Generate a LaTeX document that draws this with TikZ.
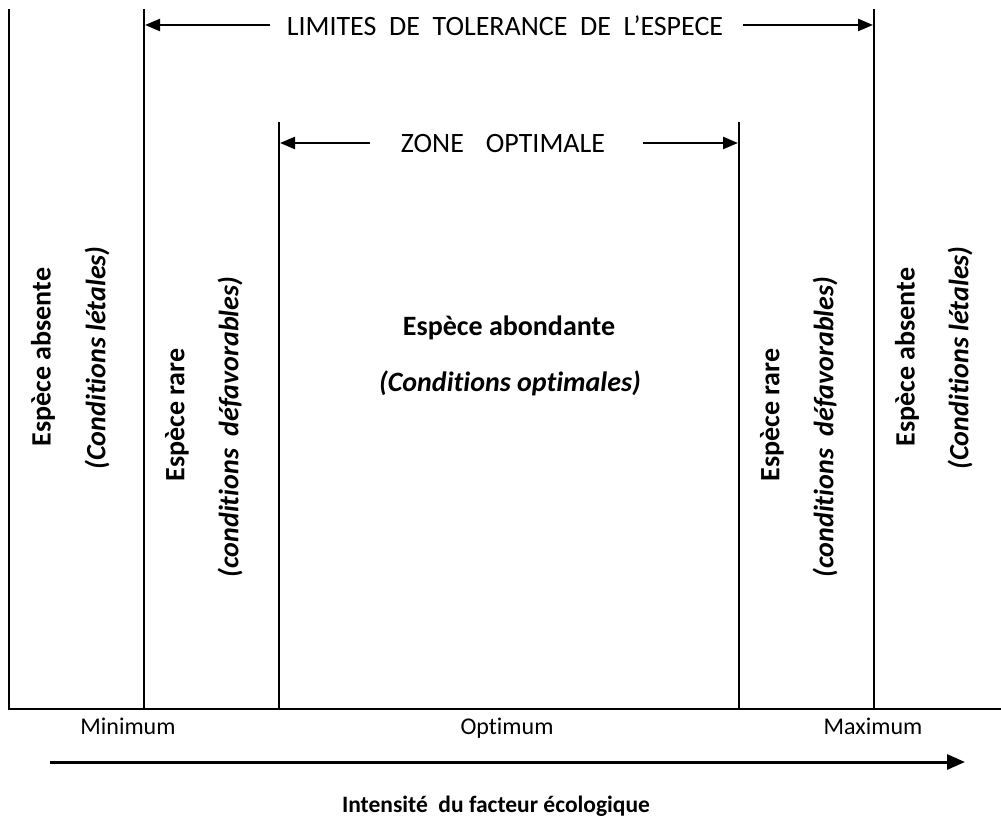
\documentclass[tikz,border=0pt]{standalone}
\usepackage{fontspec}
\setmainfont{Carlito}[Ligatures=NoCommon]
\usetikzlibrary{arrows.meta}
\begin{document}
\begin{tikzpicture}[x=1pt,y=-1pt,
  vline/.style={line width=2pt},
  harrow/.style={line width=2.4pt,-{Triangle[length=15pt,width=12pt]}},
  big/.style={font=\fontsize{28}{32}\selectfont, inner sep=0pt},
  small/.style={font=\fontsize{24}{28}\selectfont, inner sep=0pt, anchor=base},
  vbold/.style={font=\fontsize{28}{32}\selectfont\bfseries, rotate=90, inner sep=0pt},
  vital/.style={font=\fontsize{28}{32}\selectfont\bfseries\itshape, rotate=90, inner sep=0pt}]
\useasboundingbox (0,0) rectangle (1001,826);
% vertical lines
\coordinate (a1) at (9,9);     \coordinate (a2) at (9,709);
\coordinate (b1) at (144,9);   \coordinate (b2) at (144,709);
\coordinate (c1) at (279,122); \coordinate (c2) at (279,709);
\coordinate (d1) at (739,122); \coordinate (d2) at (739,709);
\coordinate (e1) at (874,9);   \coordinate (e2) at (874,709);
\coordinate (base1) at (8,709); \coordinate (base2) at (1001,709);
\draw[vline] (a1) -- (a2);
\draw[vline] (b1) -- (b2);
\draw[vline] (c1) -- (c2);
\draw[vline] (d1) -- (d2);
\draw[vline] (e1) -- (e2);
\draw[line width=2.4pt] (base1) -- (base2);
% top labels
\node[big] (lim) at (505,26) {LIMITES\ \ DE\ \ TOLERANCE\ \ DE\ \ L’ESPECE};
\coordinate (limL) at (145,25); \coordinate (limR) at (873,25);
\coordinate (limLs) at (270,25); \coordinate (limRs) at (743,25);
\draw[harrow] (limLs) -- (limL);
\draw[harrow] (limRs) -- (limR);
\node[big] (zone) at (503,144) {ZONE\hspace{22pt}OPTIMALE};
\coordinate (zL) at (280,143); \coordinate (zR) at (738,143);
\coordinate (zLs) at (370,143); \coordinate (zRs) at (643,143);
\draw[harrow] (zLs) -- (zL);
\draw[harrow] (zRs) -- (zR);
% vertical texts
\node[vbold] (abs1) at (43,357) {Espèce absente};
\node[vital] (let1) at (97,358) {(Conditions létales)};
\node[vbold] (rare1) at (177,415) {Espèce rare};
\node[vital] (def1) at (230,427) {(conditions\ \ défavorables)};
\node[vbold] (rare2) at (772,415) {Espèce rare};
\node[vital] (def2) at (825,427) {(conditions\ \ défavorables)};
\node[vbold] (abs2) at (907,357) {Espèce absente};
\node[vital] (let2) at (960,358) {(Conditions létales)};
% centre
\node[big, font=\fontsize{28}{32}\selectfont\bfseries] (abond) at (509,328) {Espèce abondante};
\node[big, font=\fontsize{28}{32}\selectfont\bfseries\itshape] (optc) at (510,383) {(Conditions optimales)};
% bottom
\node[small] (min) at (128,734) {Minimum};
\node[small] (opt) at (507,734) {Optimum};
\node[small] (max) at (873,734) {Maximum};
\coordinate (ax1) at (50,762); \coordinate (ax2) at (965,762);
\draw[line width=3pt,-{Triangle[length=18pt,width=15pt]}] (ax1) -- (ax2);
\node[small, font=\fontsize{23.5}{28}\selectfont\bfseries] (title) at (496,812) {Intensité\ \ du facteur écologique};
\end{tikzpicture}
\end{document}
